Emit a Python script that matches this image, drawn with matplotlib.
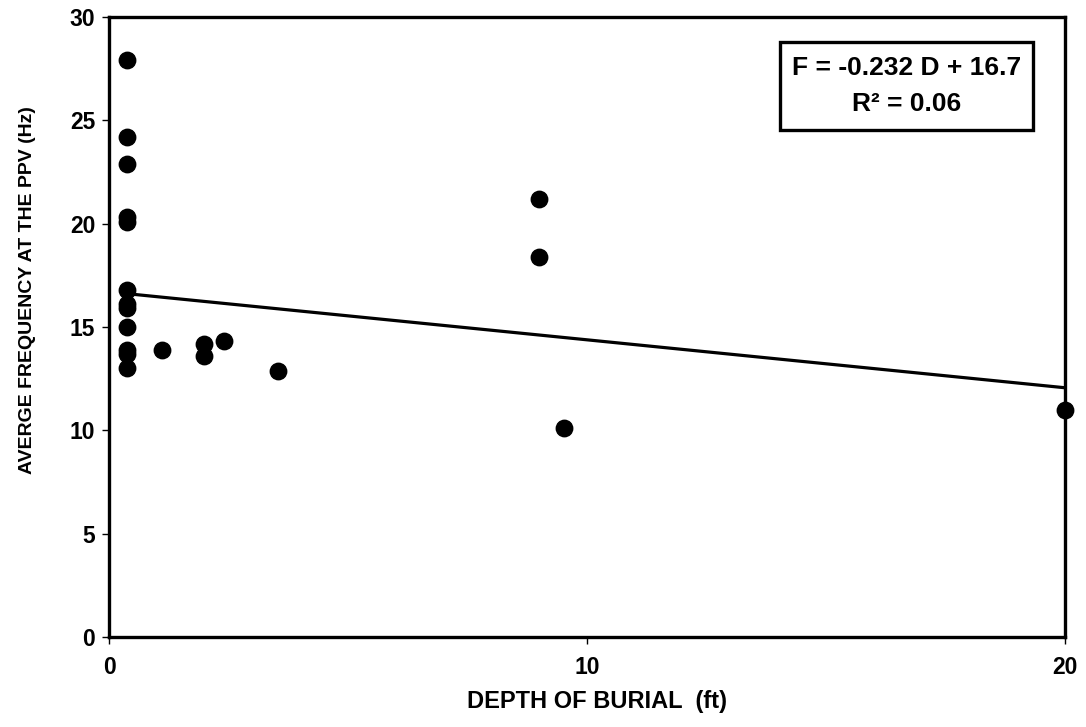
import numpy as np
import matplotlib.pyplot as plt
from matplotlib.patches import Rectangle

plt.rcParams['font.family'] = ['Liberation Sans', 'DejaVu Sans']
plt.rcParams['font.weight'] = 'bold'

# depth of burial (ft) and average frequency at the PPV (Hz)
depth = [0.37, 0.37, 0.37, 0.37, 0.37, 0.37, 0.37, 0.37, 0.37, 0.37, 0.37, 0.37,
         1.10, 1.99, 1.99, 2.41, 3.53, 9.0, 9.0, 9.52, 20.0]
freq = [27.9, 24.2, 22.9, 20.3, 20.1, 16.8, 16.1, 15.9, 15.0, 13.9, 13.7, 13.0,
        13.9, 14.2, 13.6, 14.3, 12.85, 21.2, 18.4, 10.1, 11.0]

# linear fit reported on the chart
slope = -0.232
intercept = 16.7
r2 = 0.06

fig = plt.figure(figsize=(10.86, 7.27), dpi=100)
ax = fig.add_axes([0.1004, 0.1238, 0.8803, 0.8528])

ax.scatter(depth, freq, s=140, color='black', zorder=3, clip_on=False)

xfit = np.array([min(depth), max(depth)])
ax.plot(xfit, slope * xfit + intercept, color='black', lw=2.3, zorder=2)

ax.set_xlim(0, 20)
ax.set_ylim(0, 30)
ax.set_xticks([0, 10, 20])
ax.set_yticks([0, 5, 10, 15, 20, 25, 30])
ax.tick_params(direction='out', length=5, width=1, labelsize=16.5)
ax.tick_params(axis='x', pad=9)
ax.tick_params(axis='y', pad=5)
for s in ax.spines.values():
    s.set_linewidth(2.4)

ax.set_xlabel('DEPTH OF BURIAL  (ft)', fontsize=17, fontweight='bold')
ax.set_ylabel('AVERGE FREQUENCY AT THE PPV (Hz)', fontsize=14, fontweight='bold')
ax.xaxis.set_label_coords(0.51, -0.085)
ax.yaxis.set_label_coords(-0.076, 0.56)

# equation box
ax.add_patch(Rectangle((0.702, 0.818), 0.264, 0.142, transform=ax.transAxes,
                       fill=False, lw=2.4, ec='black', zorder=4))
ax.text(0.834, 0.918, f'F = {slope:.3f} D + {intercept}', transform=ax.transAxes,
        ha='center', va='center', fontsize=19, fontweight='bold')
ax.text(0.834, 0.860, f'R² = {r2:.2f}', transform=ax.transAxes,
        ha='center', va='center', fontsize=19, fontweight='bold')

fig.savefig('out.png', dpi=100)
